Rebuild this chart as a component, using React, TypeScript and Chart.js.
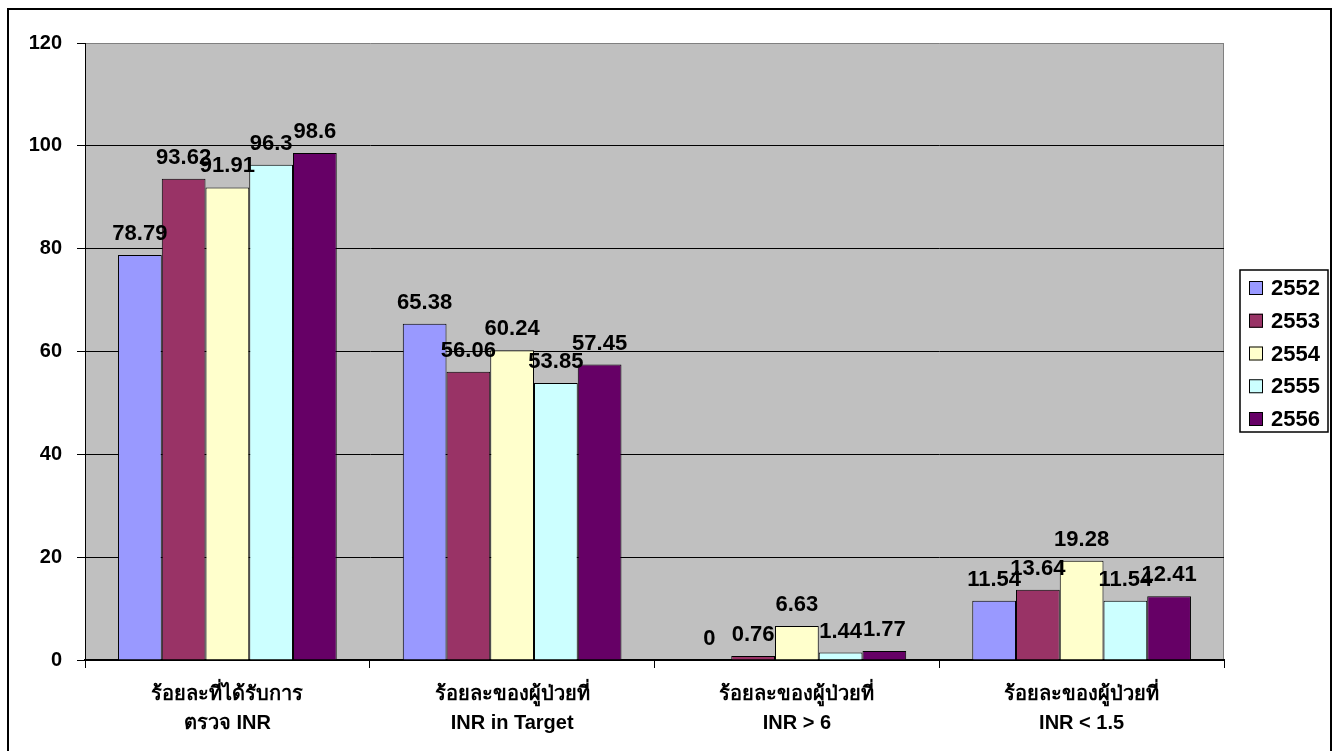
import React, { useEffect, useRef } from "react";
import { Chart, registerables } from "chart.js";
Chart.register(...registerables);

const categories = [
  ["ร้อยละที่ได้รับการ", "ตรวจ INR"],
  ["ร้อยละของผู้ป่วยที่", "INR in Target"],
  ["ร้อยละของผู้ป่วยที่", "INR > 6"],
  ["ร้อยละของผู้ป่วยที่", "INR < 1.5"],
];
const seriesNames = ["2552", "2553", "2554", "2555", "2556"];
const v2552 = [78.79, 65.38, 0, 11.54];
const v2553 = [93.62, 56.06, 0.76, 13.64];
const v2554 = [91.91, 60.24, 6.63, 19.28];
const v2555 = [96.3, 53.85, 1.44, 11.54];
const v2556 = [98.6, 57.45, 1.77, 12.41];
const seriesValues = [v2552, v2553, v2554, v2555, v2556];
const colors = ["#9999FF", "#993366", "#FFFFCC", "#CCFFFF", "#660066"];
const yMin = 0;
const yMax = 120;
const yStep = 20;

const FONT = "'Liberation Sans', Arial, sans-serif";

const backgroundPlugin = {
  id: "bgPlugin",
  beforeDraw(chart: any) {
    const { ctx, chartArea } = chart;
    ctx.save();
    ctx.fillStyle = "#FFFFFF";
    ctx.fillRect(0, 0, chart.width, chart.height);
    ctx.strokeStyle = "#000";
    ctx.lineWidth = 2;
    ctx.strokeRect(8, 9, 1323, 800);
    ctx.fillStyle = "#C0C0C0";
    ctx.fillRect(chartArea.left, chartArea.top, chartArea.right - chartArea.left, chartArea.bottom - chartArea.top);
    ctx.strokeStyle = "#808080";
    ctx.lineWidth = 1;
    ctx.beginPath();
    ctx.moveTo(chartArea.right - 0.5, chartArea.top);
    ctx.lineTo(chartArea.right - 0.5, chartArea.bottom);
    ctx.stroke();
    ctx.restore();
  },
};

const dataLabelPlugin = {
  id: "dataLabels",
  afterDatasetsDraw(chart: any) {
    const { ctx } = chart;
    ctx.save();
    ctx.font = `bold 22px ${FONT}`;
    ctx.fillStyle = "#000";
    ctx.textAlign = "center";
    ctx.textBaseline = "alphabetic";
    chart.data.datasets.forEach((ds: any, i: number) => {
      const meta = chart.getDatasetMeta(i);
      meta.data.forEach((bar: any, j: number) => {
        ctx.fillText(String(ds.data[j]), bar.x, bar.y - 15);
      });
    });
    ctx.restore();
  },
};

const legendPlugin = {
  id: "boxLegend",
  afterDraw(chart: any) {
    const { ctx } = chart;
    const left = 1240;
    const top = 270;
    const w = 88;
    const h = 162;
    ctx.save();
    ctx.fillStyle = "#FFFFFF";
    ctx.fillRect(left, top, w, h);
    ctx.strokeStyle = "#000";
    ctx.lineWidth = 1.5;
    ctx.strokeRect(left, top, w, h);
    ctx.font = `bold 22px ${FONT}`;
    ctx.textBaseline = "middle";
    ctx.textAlign = "left";
    chart.data.datasets.forEach((ds: any, i: number) => {
      const cy = top + 18 + i * 32.75;
      ctx.fillStyle = ds.backgroundColor;
      ctx.fillRect(left + 9, cy - 7, 14, 14);
      ctx.strokeStyle = "#000";
      ctx.lineWidth = 1;
      ctx.strokeRect(left + 9.5, cy - 6.5, 13, 13);
      ctx.fillStyle = "#000";
      ctx.fillText(ds.label, left + 31, cy + 1);
    });
    ctx.restore();
  },
};

export default function App() {
  const canvasRef = useRef<HTMLCanvasElement | null>(null);
  useEffect(() => {
    document.body.style.margin = "0";
    const canvas = canvasRef.current;
    if (!canvas) return;
    const chart = new Chart(canvas, {
      type: "bar",
      data: {
        labels: categories,
        datasets: seriesNames.map((name, i) => ({
          label: name,
          data: seriesValues[i],
          backgroundColor: colors[i],
          borderColor: "#000",
          borderWidth: 1,
          categoryPercentage: 0.768,
          barPercentage: 1,
        })),
      },
      options: {
        responsive: false,
        animation: false,
        devicePixelRatio: 1,
        layout: { padding: { top: 43, right: 115, left: 0, bottom: 0 } },
        plugins: {
          legend: { display: false },
          tooltip: { enabled: false },
          title: { display: false },
        },
        scales: {
          x: {
            grid: {
              offset: true,
              drawOnChartArea: false,
              tickLength: 8,
              color: "#000",
            },
            border: { color: "#000", width: 2 },
            ticks: {
              color: "#000",
              font: { family: FONT, size: 20, weight: "bold", lineHeight: 1.45 },
              padding: 12,
              maxRotation: 0,
              autoSkip: false,
            },
            afterFit(scale: any) {
              scale.height = 91;
            },
          },
          y: {
            min: yMin,
            max: yMax,
            ticks: {
              stepSize: yStep,
              color: "#000",
              font: { family: FONT, size: 20, weight: "bold" },
              padding: 15,
            },
            grid: {
              color: (c: any) => (c.tick && c.tick.value === yMax ? "#808080" : "#000"),
              tickColor: "#000",
              tickLength: 8,
              lineWidth: 1,
            },
            border: { color: "#000", width: 1 },
            afterFit(scale: any) {
              scale.width = 85;
            },
          },
        },
      },
      plugins: [backgroundPlugin, dataLabelPlugin, legendPlugin],
    });
    return () => chart.destroy();
  }, []);
  return (
    <div style={{ position: "fixed", left: 0, top: 0, width: 1339, height: 751 }}>
      <canvas ref={canvasRef} width={1339} height={751} style={{ display: "block", width: 1339, height: 751 }} />
    </div>
  );
}
